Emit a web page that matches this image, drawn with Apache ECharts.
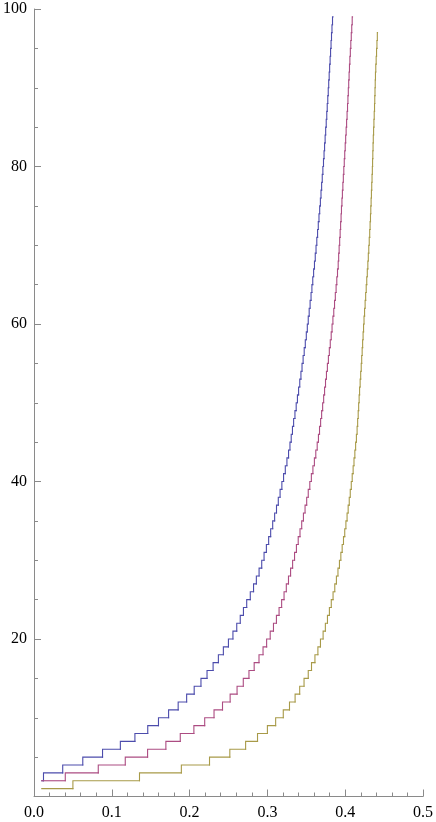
<!DOCTYPE html>
<html>
<head>
<meta charset="utf-8">
<script src="https://cdn.jsdelivr.net/npm/echarts@6/dist/echarts.min.js"></script>
<style>
html,body{margin:0;padding:0;background:#fff;}
#chart{width:436px;height:822px;}
</style>
</head>
<body>
<div id="chart"></div>
<script>
// x positions where each step level starts
const blueX = [0.0100,0.0122,0.0369,0.0627,0.0881,0.1110,0.1297,0.1462,0.1600,0.1730,
0.1853,0.1962,0.2059,0.2146,0.2224,0.2302,0.2370,0.2434,0.2499,0.2557,
0.2606,0.2651,0.2692,0.2734,0.2780,0.2822,0.2858,0.2893,0.2927,0.2957,
0.2987,0.3016,0.3042,0.3068,0.3093,0.3117,0.3140,0.3163,0.3186,0.3208,
0.3230,0.3251,0.3272,0.3290,0.3306,0.3322,0.3337,0.3354,0.3370,0.3386,
0.3401,0.3416,0.3431,0.3445,0.3459,0.3473,0.3487,0.3500,0.3513,0.3525,
0.3537,0.3549,0.3561,0.3572,0.3583,0.3594,0.3605,0.3615,0.3625,0.3635,
0.3645,0.3654,0.3663,0.3672,0.3681,0.3689,0.3697,0.3705,0.3713,0.3721,
0.3728,0.3735,0.3742,0.3749,0.3756,0.3763,0.3769,0.3776,0.3782,0.3788,
0.3794,0.3800,0.3806,0.3812,0.3818,0.3824,0.3830,0.3837,0.3843];
const blueY = [2,3,4,5,6,7,8,9,10,11,12,13,14,15,16,17,18,19,20,21,22,23,24,25,26,27,28,29,30,31,
32,33,34,35,36,37,38,39,40,41,42,43,44,45,46,47,48,49,50,51,52,53,54,55,56,57,58,59,60,61,
62,63,64,65,66,67,68,69,70,71,72,73,74,75,76,77,78,79,80,81,82,83,84,85,86,87,88,89,90,91,
92,93,94,95,96,97,98,99,99];

const magentaX = [0.0100,0.0402,0.0826,0.1173,0.1460,0.1695,0.1880,0.2055,0.2194,0.2314,
0.2423,0.2521,0.2610,0.2690,0.2763,0.2830,0.2892,0.2944,0.2990,0.3036,
0.3078,0.3116,0.3150,0.3183,0.3214,0.3243,0.3271,0.3298,0.3324,0.3349,
0.3373,0.3396,0.3419,0.3441,0.3463,0.3484,0.3505,0.3525,0.3545,0.3565,
0.3585,0.3604,0.3622,0.3640,0.3656,0.3670,0.3684,0.3697,0.3710,0.3723,
0.3735,0.3747,0.3759,0.3771,0.3784,0.3796,0.3808,0.3820,0.3831,0.3842,
0.3853,0.3863,0.3873,0.3883,0.3892,0.3901,0.3910,0.3916,0.3922,0.3929,
0.3935,0.3941,0.3947,0.3952,0.3958,0.3964,0.3970,0.3976,0.3982,0.3988,
0.3994,0.4000,0.4006,0.4012,0.4018,0.4024,0.4030,0.4035,0.4040,0.4045,
0.4050,0.4055,0.4060,0.4066,0.4072,0.4078,0.4084,0.4090,0.4094];
const magentaY = [2,3,4,5,6,7,8,9,10,11,12,13,14,15,16,17,18,19,20,21,22,23,24,25,26,27,28,29,30,31,
32,33,34,35,36,37,38,39,40,41,42,43,44,45,46,47,48,49,50,51,52,53,54,55,56,57,58,59,60,61,
62,63,64,65,66,67,68,69,70,71,72,73,74,75,76,77,78,79,80,81,82,83,84,85,86,87,88,89,90,91,
92,93,94,95,96,97,98,99,99];

const goldX = [0.0100,0.0500,0.1356,0.1894,0.2256,0.2517,0.2720,0.2873,0.3000,0.3106,
0.3204,0.3284,0.3356,0.3415,0.3471,0.3525,0.3567,0.3611,0.3649,0.3682,
0.3716,0.3745,0.3772,0.3797,0.3821,0.3844,0.3866,0.3887,0.3907,0.3926,
0.3944,0.3961,0.3978,0.3994,0.4009,0.4024,0.4038,0.4052,0.4065,0.4078,
0.4090,0.4102,0.4113,0.4124,0.4134,0.4144,0.4153,0.4160,0.4167,0.4173,
0.4179,0.4185,0.4192,0.4199,0.4206,0.4212,0.4218,0.4224,0.4230,0.4236,
0.4242,0.4249,0.4256,0.4263,0.4270,0.4277,0.4284,0.4291,0.4297,0.4303,
0.4309,0.4315,0.4320,0.4325,0.4329,0.4333,0.4337,0.4341,0.4345,0.4349,
0.4352,0.4355,0.4358,0.4361,0.4365,0.4369,0.4373,0.4377,0.4380,0.4383,
0.4386,0.4389,0.4393,0.4398,0.4403,0.4408,0.4413,0.4415];
const goldY = [1,2,3,4,5,6,7,8,9,10,11,12,13,14,15,16,17,18,19,20,21,22,23,24,25,26,27,28,29,30,
31,32,33,34,35,36,37,38,39,40,41,42,43,44,45,46,47,48,49,50,51,52,53,54,55,56,57,58,59,60,
61,62,63,64,65,66,67,68,69,70,71,72,73,74,75,76,77,78,79,80,81,82,83,84,85,86,87,88,89,90,
91,92,93,94,95,96,97,97];

const xTicks = [0, 0.1, 0.2, 0.3, 0.4, 0.5];
const yTicks = [20, 40, 60, 80, 100];

// each row: [x start, level, previous level, x end of this level]
function stepRows(xs, ys){
  return xs.map((x,i)=>[x, ys[i], i>0 ? ys[i-1] : ys[i], i<xs.length-1 ? xs[i+1] : x]);
}

const chart = echarts.init(document.getElementById('chart'), null, {renderer:'canvas'});
const axisColor = '#8a8a8a';
const labelFont = {color:'#000', fontFamily:'"Liberation Serif","DejaVu Serif",serif', fontSize:16};

function mk(name, xs, ys, color){
  return {name:name, type:'custom', data:stepRows(xs,ys),
    encode:{x:[0,3], y:[1,2]},
    renderItem:function(params, api){
      const p0 = api.coord([api.value(0), api.value(2)]);
      const p1 = api.coord([api.value(0), api.value(1)]);
      const p2 = api.coord([api.value(3), api.value(1)]);
      return {type:'polyline', shape:{points:[p0,p1,p2]},
        style:{stroke:color, lineWidth:1.1, fill:null, lineJoin:'miter', lineCap:'square'}};
    },
    animation:false, silent:true, z:3};
}

chart.setOption({
  animation:false,
  grid:{left:31.5, right:11, top:9, bottom:25.5, containLabel:false},
  xAxis:{type:'value', min:0, max:0.5, interval:0.1,
    axisLine:{show:true, onZero:false, lineStyle:{color:axisColor, width:1}},
    axisTick:{show:true, inside:true, length:7, lineStyle:{color:axisColor}},
    minorTick:{show:true, splitNumber:5, length:4, lineStyle:{color:axisColor}},
    splitLine:{show:false},
    axisLabel:Object.assign({margin:8, formatter:v=>{
      const t = xTicks.find(k=>Math.abs(k-v)<1e-9); return t===undefined?'':t.toFixed(1);}}, labelFont)
  },
  yAxis:{type:'value', min:0, max:100, interval:20,
    axisLine:{show:true, onZero:false, lineStyle:{color:axisColor, width:1}},
    axisTick:{show:true, inside:true, length:7, lineStyle:{color:axisColor}},
    minorTick:{show:true, splitNumber:4, length:4, lineStyle:{color:axisColor}},
    splitLine:{show:false},
    axisLabel:Object.assign({margin:7, formatter:v=>yTicks.includes(v)?String(v):''}, labelFont)
  },
  series:[
    mk('blue', blueX, blueY, '#4c4cac'),
    mk('magenta', magentaX, magentaY, '#ac4c82'),
    mk('gold', goldX, goldY, '#a89a48')
  ]
});
</script>
</body>
</html>
